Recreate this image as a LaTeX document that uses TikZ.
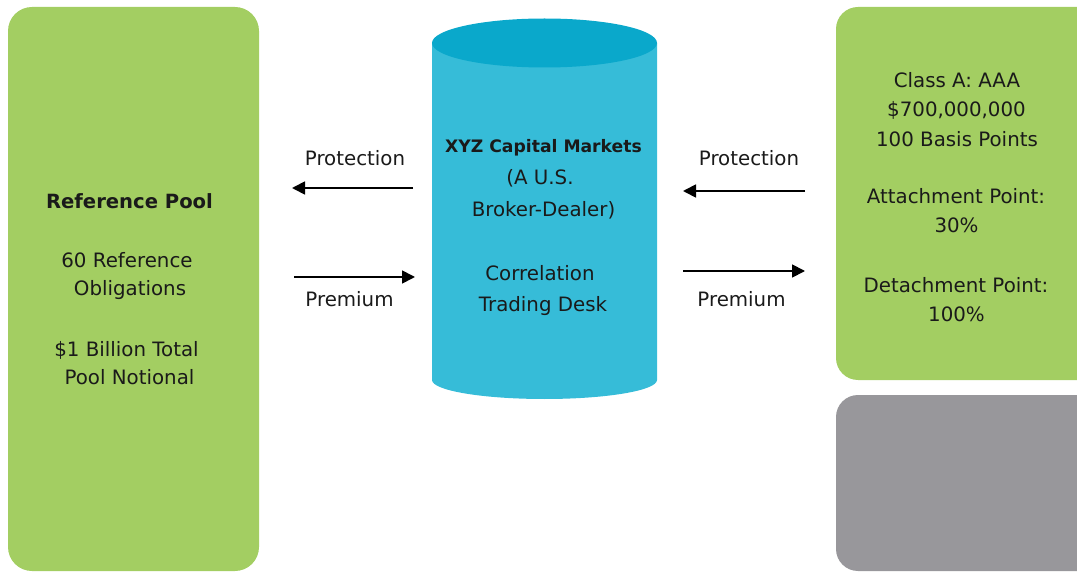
\documentclass[tikz,border=0pt]{standalone}
\usepackage{fontspec}
\setmainfont{DejaVu Sans}
\usetikzlibrary{arrows.meta}

\definecolor{poolgreen}{HTML}{A3CE62}
\definecolor{tankbody}{HTML}{36BCD8}
\definecolor{tanktop}{HTML}{0AA8CB}
\definecolor{tranchegray}{HTML}{98979B}
\definecolor{ink}{HTML}{1A1A1A}

\tikzset{
  txt/.style={anchor=base, inner sep=0pt, text=ink, font=\fontsize{19.8}{24}\selectfont},
  hdr/.style={txt, font=\fontsize{19.6}{24}\selectfont\bfseries},
  hdrsmall/.style={txt, font=\fontsize{17.2}{20}\selectfont\bfseries},
  flow/.style={line width=1.8pt, -{Triangle[length=13pt,width=13pt]}},
}

\begin{document}
\begin{tikzpicture}[x=1pt,y=-1pt]
\useasboundingbox (0,0) rectangle (1077,572);

% reference pool box
\fill[poolgreen, rounded corners=24pt] (8,7) rectangle (259,571);

% right tranche boxes (running off the right edge)
\fill[poolgreen, rounded corners=22pt] (836,7) rectangle (1100,380);
\fill[tranchegray, rounded corners=22pt] (836,395) rectangle (1100,571);

% dealer cylinder
\fill[tankbody] (432,43) -- (432,380)
   arc[start angle=180, end angle=360, x radius=112.5, y radius=-19] -- (657,43) -- cycle;
\fill[tanktop] (544.5,43) ellipse[x radius=112.5, y radius=24.5];

% pool text
\node[hdr] (poolA) at (129.5,209) {Reference Pool};
\node[txt] (poolB) at (127,268) {60 Reference};
\node[txt] (poolC) at (130,296) {Obligations};
\node[txt] (poolD) at (126.5,356) {\$1 Billion Total};
\node[txt] (poolE) at (129.5,384) {Pool Notional};

% dealer text
\node[hdrsmall] (dealA) at (543.5,153) {XYZ Capital Markets};
\node[txt] (dealB) at (540,185) {(A U.S.};
\node[txt] (dealC) at (543.5,217) {Broker-Dealer)};
\node[txt] (dealD) at (540,281) {Correlation};
\node[txt] (dealE) at (543,312) {Trading Desk};

% tranche text
\node[txt] (trA) at (957,88) {Class A: AAA};
\node[txt] (trB) at (956.5,117) {\$700,000,000};
\node[txt] (trC) at (957,147) {100 Basis Points};
\node[txt] (trD) at (956,204) {Attachment Point:};
\node[txt] (trE) at (956.5,233) {30\%};
\node[txt] (trF) at (956,293) {Detachment Point:};
\node[txt] (trG) at (956.5,322) {100\%};

% flow labels
\node[txt] (protL) at (355,166) {Protection};
\node[txt] (premL) at (349.5,306) {Premium};
\node[txt] (protR) at (749,166) {Protection};
\node[txt] (premR) at (741.5,306) {Premium};

% arrow end points
\coordinate (lp1) at (413,188);
\coordinate (lp2) at (292,188);
\coordinate (lm1) at (294,277);
\coordinate (lm2) at (415,277);
\coordinate (rp1) at (805,191);
\coordinate (rp2) at (683,191);
\coordinate (rm1) at (683,271);
\coordinate (rm2) at (805,271);

\draw[flow] (lp1) -- (lp2);
\draw[flow] (lm1) -- (lm2);
\draw[flow] (rp1) -- (rp2);
\draw[flow] (rm1) -- (rm2);
\end{tikzpicture}
\end{document}
